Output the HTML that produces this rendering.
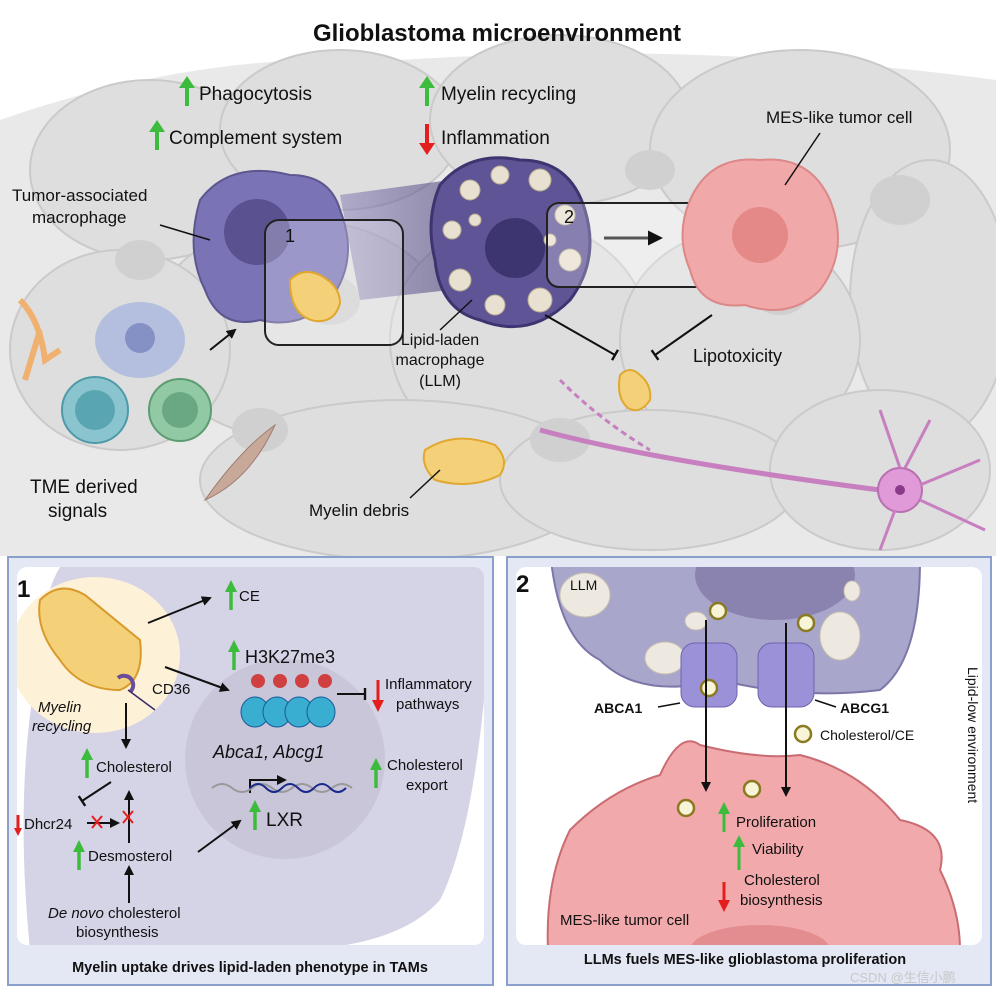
<!DOCTYPE html>
<html><head><meta charset="utf-8"><style>
html,body{margin:0;padding:0;background:#fff}
svg{display:block}
text{font-family:"Liberation Sans",Arial,sans-serif;fill:#111}
</style></head><body>
<svg width="996" height="996" viewBox="0 0 996 996" xmlns="http://www.w3.org/2000/svg">
<defs>
<marker id="ah" viewBox="0 0 10 10" refX="8" refY="5" markerWidth="5" markerHeight="5" orient="auto"><path d="M0,0L10,5L0,10z" fill="#111"/></marker>
<marker id="tb" viewBox="0 0 10 10" refX="5" refY="5" markerWidth="6" markerHeight="6" orient="auto"><path d="M5,0V10" stroke="#111" stroke-width="2"/></marker>
<linearGradient id="llmg" x1="0" x2="1"><stop offset="0" stop-color="#8b82b8" stop-opacity=".8"/><stop offset="1" stop-color="#4a3f7a" stop-opacity=".8"/></linearGradient>
<clipPath id="p2"><rect x="516" y="567" width="466" height="378" rx="10"/></clipPath>
<clipPath id="p1"><rect x="17" y="567" width="467" height="378" rx="10"/></clipPath>
</defs>
<!-- background tissue -->
<rect width="996" height="556" fill="#fff"/>
<path d="M0,120 Q200,50 400,60 Q700,40 996,80 L996,556 L0,556z" fill="#e9e9e9"/>
<g fill="#dedede" stroke="#cacaca" stroke-width="2">
<ellipse cx="150" cy="170" rx="120" ry="90"/><ellipse cx="340" cy="130" rx="120" ry="80"/>
<ellipse cx="560" cy="120" rx="130" ry="85"/><ellipse cx="800" cy="150" rx="150" ry="100"/>
<ellipse cx="930" cy="300" rx="80" ry="140"/><ellipse cx="300" cy="330" rx="150" ry="110"/>
<ellipse cx="520" cy="340" rx="130" ry="120"/><ellipse cx="740" cy="340" rx="120" ry="110"/>
<ellipse cx="400" cy="480" rx="200" ry="80"/><ellipse cx="650" cy="480" rx="150" ry="70"/>
<ellipse cx="880" cy="470" rx="110" ry="80"/><ellipse cx="120" cy="350" rx="110" ry="100"/>
</g>
<g fill="#d0d0d0"><ellipse cx="330" cy="300" rx="30" ry="25"/><ellipse cx="780" cy="290" rx="30" ry="25"/><ellipse cx="560" cy="440" rx="30" ry="22"/><ellipse cx="260" cy="430" rx="28" ry="22"/><ellipse cx="900" cy="200" rx="30" ry="25"/><ellipse cx="650" cy="170" rx="25" ry="20"/><ellipse cx="140" cy="260" rx="25" ry="20"/></g>
<text x="497" y="41" font-size="24" font-weight="bold" text-anchor="middle">Glioblastoma microenvironment</text>
<g stroke-width="4"><line x1="187" y1="106" x2="187" y2="84" stroke="#3dbb3d"/><line x1="157" y1="150" x2="157" y2="128" stroke="#3dbb3d"/><line x1="427" y1="106" x2="427" y2="84" stroke="#3dbb3d"/><line x1="427" y1="124" x2="427" y2="146" stroke="#e41d1d"/></g>
<g><path d="M179,88L187,76L195,88z" fill="#3dbb3d"/><path d="M149,132L157,120L165,132z" fill="#3dbb3d"/><path d="M419,88L427,76L435,88z" fill="#3dbb3d"/><path d="M419,143L427,155L435,143z" fill="#e41d1d"/></g>
<g font-size="19"><text x="199" y="100">Phagocytosis</text><text x="169" y="144">Complement system</text><text x="441" y="100">Myelin recycling</text><text x="441" y="144">Inflammation</text></g>
<!-- TAM -->
<path d="M200,200 Q230,160 290,175 Q330,175 340,210 Q360,260 330,300 Q300,330 260,320 Q220,330 205,290 Q185,250 200,200z" fill="#7a74b6" stroke="#5c568f" stroke-width="2"/>
<circle cx="257" cy="232" r="33" fill="#5a5290"/>
<path d="M340,195 L450,180 L450,290 L360,300z" fill="url(#llmg)" opacity=".7"/>
<rect x="265" y="220" width="138" height="125" rx="14" fill="rgba(255,255,255,0.25)" stroke="#222" stroke-width="2"/>
<text x="285" y="242" font-size="18" fill="#222">1</text>
<path d="M290,280 q15,-15 35,-2 q15,10 15,25 q-5,20 -25,18 q-25,-5 -25,-41z" fill="#f4d178" stroke="#e0a830" stroke-width="2"/>
<!-- LLM -->
<path d="M440,185 Q470,150 520,160 Q570,160 585,210 Q600,260 570,300 Q530,340 480,320 Q440,310 435,260 Q425,220 440,185z" fill="#5f5596" stroke="#3d3570" stroke-width="3"/>
<circle cx="515" cy="248" r="30" fill="#3d3570"/>
<g fill="#e8e0d0" stroke="#b8ac90"><circle cx="470" cy="190" r="10"/><circle cx="500" cy="175" r="9"/><circle cx="540" cy="180" r="11"/><circle cx="565" cy="215" r="10"/><circle cx="570" cy="260" r="11"/><circle cx="540" cy="300" r="12"/><circle cx="495" cy="305" r="10"/><circle cx="460" cy="280" r="11"/><circle cx="452" cy="230" r="9"/><circle cx="475" cy="220" r="6"/><circle cx="550" cy="240" r="6"/></g>
<rect x="547" y="203" width="160" height="84" rx="12" fill="rgba(255,255,255,0.25)" stroke="#222" stroke-width="2"/>
<text x="564" y="223" font-size="18" fill="#222">2</text>
<line x1="604" y1="238" x2="660" y2="238" stroke="#555" stroke-width="3" marker-end="url(#ah)"/>
<!-- MES cell -->
<path d="M690,200 Q710,155 760,160 Q810,155 830,200 Q850,250 820,290 Q790,320 745,305 Q700,310 690,270 Q675,235 690,200z" fill="#f0a8a8" stroke="#d88" stroke-width="2"/>
<circle cx="760" cy="235" r="28" fill="#e07a7a" opacity=".7"/>
<text x="766" y="123" font-size="17">MES-like tumor cell</text>
<line x1="820" y1="133" x2="785" y2="185" stroke="#111" stroke-width="1.5"/>
<text x="12" y="201" font-size="17">Tumor-associated</text><text x="32" y="223" font-size="17">macrophage</text>
<line x1="160" y1="225" x2="210" y2="240" stroke="#111" stroke-width="1.5"/>
<line x1="545" y1="315" x2="615" y2="355" stroke="#111" stroke-width="2" marker-end="url(#tb)"/>
<line x1="712" y1="315" x2="655" y2="355" stroke="#111" stroke-width="2" marker-end="url(#tb)"/>
<text x="693" y="362" font-size="18">Lipotoxicity</text>
<path d="M620,375 q10,-10 20,0 q12,10 10,25 q-10,15 -22,8 q-12,-10 -8,-33z" fill="#f4d178" stroke="#e0a830" stroke-width="2"/>
<text x="440" y="345" font-size="16" text-anchor="middle">Lipid-laden</text><text x="440" y="365" font-size="16" text-anchor="middle">macrophage</text><text x="440" y="386" font-size="16" text-anchor="middle">(LLM)</text>
<line x1="440" y1="330" x2="472" y2="300" stroke="#111" stroke-width="1.5"/>
<path d="M425,450 q30,-20 70,-5 q15,15 5,30 q-30,15 -65,5 q-15,-15 -10,-30z" fill="#f4d178" stroke="#e0a830" stroke-width="2"/>
<text x="309" y="516" font-size="17">Myelin debris</text>
<line x1="410" y1="498" x2="440" y2="470" stroke="#111" stroke-width="1.5"/>
<path d="M540,430 Q650,460 880,490" stroke="#c77fc0" stroke-width="5" fill="none"/>
<path d="M560,380 Q600,420 650,450" stroke="#c77fc0" stroke-width="3" fill="none" stroke-dasharray="6 4"/>
<circle cx="900" cy="490" r="22" fill="#e09ad8" stroke="#b870b0" stroke-width="2"/><circle cx="900" cy="490" r="5" fill="#8a3a88"/>
<path d="M900,468 L880,410 M905,468 L930,420 M920,485 L980,460 M920,500 L985,530 M895,510 L880,550" stroke="#c77fc0" stroke-width="3"/>
<path d="M20,300 Q40,320 45,360 L60,350 M40,330 L25,380" stroke="#f0b070" stroke-width="6" fill="none"/>
<ellipse cx="140" cy="340" rx="45" ry="38" fill="#a9b6de" opacity=".8"/><circle cx="140" cy="338" r="15" fill="#8591c4"/>
<circle cx="95" cy="410" r="33" fill="#8ac4cf" stroke="#4f9aa8" stroke-width="2"/><circle cx="95" cy="410" r="20" fill="#5aa5b2"/>
<circle cx="180" cy="410" r="31" fill="#92c9a5" stroke="#5c9c70" stroke-width="2"/><circle cx="180" cy="410" r="18" fill="#6aa884"/>
<path d="M205,500 Q240,450 275,425 Q250,480 205,500z" fill="#c8a898" stroke="#9d7d70"/>
<line x1="210" y1="350" x2="235" y2="330" stroke="#111" stroke-width="2" marker-end="url(#ah)"/>
<text x="30" y="493" font-size="19">TME derived</text><text x="48" y="517" font-size="19">signals</text>

<!-- PANEL 1 -->
<rect x="8" y="557" width="485" height="428" fill="#e4e8f4" stroke="#8aa0cc" stroke-width="2"/>
<rect x="17" y="567" width="467" height="378" rx="10" fill="#fff"/>
<g clip-path="url(#p1)">
<path d="M60,567 L484,567 L484,700 Q470,840 440,900 Q400,945 300,950 L30,950 Q15,800 35,680 Q40,600 60,567z" fill="#d5d3e6"/>
<ellipse cx="95" cy="655" rx="85" ry="78" fill="#fdf2d8"/>
<circle cx="285" cy="759" r="100" fill="#c9c6d9"/>
</g>
<path d="M40,600 Q60,580 85,595 L140,640 Q145,680 120,690 Q80,690 60,660 Q35,630 40,600z" fill="#f4d178" stroke="#d89a2a" stroke-width="2"/>
<path d="M118,678 a8,8 0 0 1 12,14" stroke="#6b4b9a" stroke-width="4" fill="none"/><line x1="128" y1="690" x2="155" y2="710" stroke="#3a2a6a" stroke-width="1.5"/>
<text x="17" y="597" font-size="24" font-weight="bold">1</text>
<g font-size="15">
<text x="239" y="601">CE</text>
<text x="245" y="663" font-size="18">H3K27me3</text>
<text x="152" y="694">CD36</text>
<text x="38" y="712" font-style="italic">Myelin</text><text x="32" y="731" font-style="italic">recycling</text>
<text x="96" y="772">Cholesterol</text>
<text x="24" y="829">Dhcr24</text>
<text x="88" y="861">Desmosterol</text>
<text x="48" y="918"><tspan font-style="italic">De novo</tspan> cholesterol</text>
<text x="76" y="937">biosynthesis</text>
<text x="385" y="689">Inflammatory</text><text x="396" y="709">pathways</text>
<text x="387" y="770">Cholesterol</text><text x="406" y="790">export</text>
<text x="213" y="758" font-size="18" font-style="italic">Abca1, Abcg1</text>
<text x="266" y="826" font-size="19">LXR</text>
</g>
<g stroke-width="3.5" stroke="#3dbb3d"><line x1="231" y1="610" x2="231" y2="590"/><line x1="234" y1="670" x2="234" y2="650"/><line x1="87" y1="778" x2="87" y2="758"/><line x1="79" y1="870" x2="79" y2="850"/><line x1="255" y1="830" x2="255" y2="810"/><line x1="376" y1="788" x2="376" y2="768"/></g>
<g fill="#3dbb3d"><path d="M225,592L231,580L237,592z"/><path d="M228,652L234,640L240,652z"/><path d="M81,760L87,748L93,760z"/><path d="M73,852L79,840L85,852z"/><path d="M249,812L255,800L261,812z"/><path d="M370,770L376,758L382,770z"/></g>
<g stroke="#e41d1d" stroke-width="3"><line x1="378" y1="680" x2="378" y2="702"/><line x1="18" y1="815" x2="18" y2="830"/></g>
<g fill="#e41d1d"><path d="M372,700L378,712L384,700z"/><path d="M14,828L18,836L22,828z"/></g>
<g stroke="#111" stroke-width="2" fill="none">
<line x1="148" y1="623" x2="210" y2="598" marker-end="url(#ah)"/>
<line x1="165" y1="667" x2="228" y2="690" marker-end="url(#ah)"/>
<line x1="126" y1="703" x2="126" y2="747" marker-end="url(#ah)"/>
<line x1="111" y1="782" x2="82" y2="801" marker-end="url(#tb)"/>
<line x1="87" y1="823" x2="118" y2="823" marker-end="url(#ah)"/>
<line x1="129" y1="843" x2="129" y2="792" marker-end="url(#ah)"/>
<line x1="129" y1="903" x2="129" y2="867" marker-end="url(#ah)"/>
<line x1="198" y1="852" x2="240" y2="821" marker-end="url(#ah)"/>
<line x1="337" y1="694" x2="365" y2="694" marker-end="url(#tb)"/>
<path d="M250,793 V780 H285" marker-end="url(#ah)"/>
</g>
<g stroke="#e41d1d" stroke-width="2"><path d="M92,816l10,12M102,816l-10,12M123,811l10,12M133,811l-10,12"/></g>
<path d="M212,788 q10,-8 20,0 t20,0 t20,0 t20,0 t20,0 t20,0 t20,0" stroke="#999" stroke-width="2" fill="none"/>
<path d="M250,788 q8,-8 16,0 t16,0 t16,0 t16,0 t16,0 t16,0" stroke="#1a2a8a" stroke-width="2" fill="none"/>
<g fill="#3aaed0" stroke="#1a5a9a"><ellipse cx="255" cy="712" rx="14" ry="15"/><ellipse cx="277" cy="712" rx="14" ry="15"/><ellipse cx="299" cy="712" rx="14" ry="15"/><ellipse cx="321" cy="712" rx="14" ry="15"/></g>
<g fill="#d04040"><circle cx="258" cy="681" r="7"/><circle cx="280" cy="681" r="7"/><circle cx="302" cy="681" r="7"/><circle cx="325" cy="681" r="7"/></g>
<text x="250" y="972" font-size="14.5" font-weight="bold" text-anchor="middle">Myelin uptake drives lipid-laden phenotype in TAMs</text>

<!-- PANEL 2 -->
<rect x="507" y="557" width="484" height="428" fill="#e4e8f4" stroke="#8aa0cc" stroke-width="2"/>
<rect x="516" y="567" width="466" height="378" rx="10" fill="#fff"/>
<g clip-path="url(#p2)">
<path d="M551,560 L920,560 Q920,660 880,690 Q800,700 720,680 Q640,700 600,660 Q560,640 551,560z" fill="#a9a6cc" stroke="#7c77a8" stroke-width="2"/>
<ellipse cx="775" cy="575" rx="80" ry="45" fill="#8a83b0"/>
<g fill="#ede8e0" stroke="#c8c0b0"><ellipse cx="585" cy="595" rx="25" ry="22"/><ellipse cx="665" cy="658" rx="20" ry="16"/><ellipse cx="840" cy="636" rx="20" ry="24"/><ellipse cx="696" cy="621" rx="11" ry="9"/><ellipse cx="852" cy="591" rx="8" ry="10"/></g>
<path d="M548,950 Q545,880 570,830 Q610,790 660,775 Q680,730 700,745 Q760,760 800,755 Q860,770 900,820 Q950,830 940,870 Q960,910 960,950z" fill="#f2a9ab" stroke="#c96d72" stroke-width="2"/>
<ellipse cx="760" cy="950" rx="70" ry="25" fill="#e48d90"/>
</g>
<g fill="#9a91d8" stroke="#6d64b0"><rect x="681" y="643" width="56" height="64" rx="14"/><rect x="758" y="643" width="56" height="64" rx="14"/></g>
<g fill="#f8f4d8" stroke="#8a7a20" stroke-width="2.5"><circle cx="718" cy="611" r="8"/><circle cx="806" cy="623" r="8"/><circle cx="709" cy="688" r="8"/><circle cx="803" cy="734" r="8"/><circle cx="752" cy="789" r="8"/><circle cx="686" cy="808" r="8"/></g>
<g stroke="#111" stroke-width="2"><line x1="706" y1="620" x2="706" y2="790" marker-end="url(#ah)"/><line x1="786" y1="623" x2="786" y2="795" marker-end="url(#ah)"/><line x1="658" y1="707" x2="680" y2="703" stroke-width="1.5"/><line x1="815" y1="700" x2="836" y2="707" stroke-width="1.5"/></g>
<text x="516" y="592" font-size="24" font-weight="bold">2</text>
<text x="570" y="590" font-size="14">LLM</text>
<text x="594" y="713" font-size="14" font-weight="bold">ABCA1</text>
<text x="840" y="713" font-size="14" font-weight="bold">ABCG1</text>
<text x="820" y="740" font-size="14">Cholesterol/CE</text>
<text x="736" y="827" font-size="15">Proliferation</text>
<text x="752" y="854" font-size="15">Viability</text>
<text x="744" y="885" font-size="15">Cholesterol</text>
<text x="740" y="905" font-size="15">biosynthesis</text>
<text x="560" y="925" font-size="15">MES-like tumor cell</text>
<text x="0" y="0" font-size="14" transform="translate(968,667) rotate(90)">Lipid-low environment</text>
<g stroke="#3dbb3d" stroke-width="3"><line x1="724" y1="832" x2="724" y2="812"/><line x1="739" y1="870" x2="739" y2="845"/></g>
<g fill="#3dbb3d"><path d="M718,814L724,802L730,814z"/><path d="M733,847L739,835L745,847z"/></g>
<line x1="724" y1="882" x2="724" y2="902" stroke="#e41d1d" stroke-width="3"/><path d="M718,900L724,912L730,900z" fill="#e41d1d"/>
<text x="745" y="964" font-size="14.5" font-weight="bold" text-anchor="middle">LLMs fuels MES-like glioblastoma proliferation</text>
<text x="850" y="982" font-size="13" style="fill:#c8c8c8">CSDN @生信小鹏</text>
</svg>
</body></html>
